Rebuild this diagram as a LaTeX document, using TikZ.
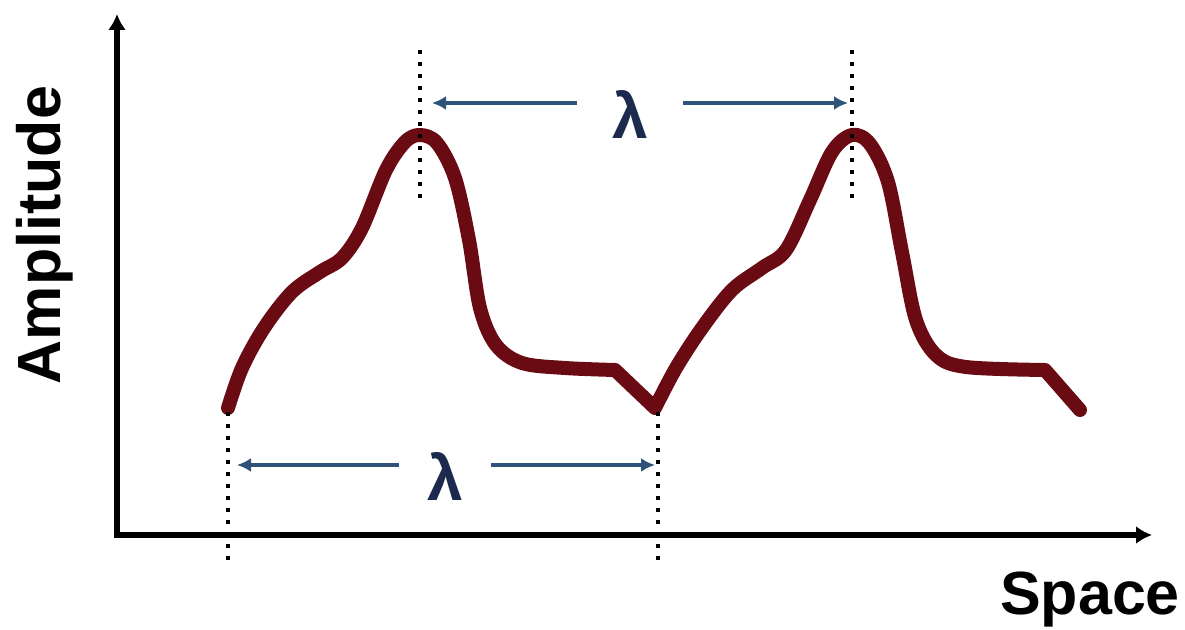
\documentclass[tikz,border=0pt]{standalone}
\usepackage{fontspec}
\setmainfont{Liberation Sans}
\usepackage{xcolor}
\usetikzlibrary{arrows.meta}
\definecolor{waveRed}{HTML}{6A0A12}
\definecolor{dimBlue}{HTML}{2F5378}
\definecolor{lamNavy}{HTML}{1C2A4E}

\begin{document}
\begin{tikzpicture}[x=0.5pt,y=-0.5pt,
  >={Latex[length=8pt,width=9pt]},
  axis/.style={line width=3pt,->},
  wave/.style={line width=7pt,draw=waveRed,line cap=round,line join=round},
  guide/.style={line width=1.8pt,dash pattern=on 1.8pt off 4.2pt},
  dim/.style={line width=2pt,draw=dimBlue,-{Latex[length=7pt,width=7pt]}},
  lam/.style={text=lamNavy,font=\fontsize{32}{36}\selectfont\bfseries,inner ysep=0pt},
  lbl/.style={font=\fontsize{30.5}{36}\selectfont\bfseries,inner sep=0pt}]
  \useasboundingbox (0,0) rectangle (1185,630);
  \coordinate (o) at (117,535);
  \coordinate (ytop) at (117,14);
  \coordinate (xend) at (1152,535);
  \draw[axis] (o) -- (ytop);
  \draw[axis] ([xshift=-1.5pt]o) -- (xend);
  \node[lbl,rotate=90] (ylab) at (45,235) {Amplitude};
  \node[lbl] (xlab) at (1090,600) {Space};
  \draw[wave] plot[smooth,tension=.55] coordinates {(228,408) (242,368) (264,328) (292,292) (320,272) (342,258) (362,228) (386,170) (405,142) (420,135) (437,143) (455,178) (469,240) (480,308) (496,345) (522,363) (565,368) (615,370)}
    -- plot[smooth,tension=.55] coordinates {(655,408) (676,368) (702,328) (732,290) (762,268) (786,250) (810,200) (832,152) (852,135) (870,144) (888,182) (902,252) (916,320) (936,355) (966,367) (1045,370)}
    -- (1080,410);
  \coordinate (gA1) at (420,50);  \coordinate (gA2) at (420,205);
  \coordinate (gB1) at (852,50);  \coordinate (gB2) at (852,205);
  \coordinate (gC1) at (228,412); \coordinate (gC2) at (228,566);
  \coordinate (gD1) at (658,412); \coordinate (gD2) at (658,566);
  \draw[guide] (gA1) -- (gA2);
  \draw[guide] (gB1) -- (gB2);
  \draw[guide] (gC1) -- (gC2);
  \draw[guide] (gD1) -- (gD2);
  \node[lam,inner xsep=17.5pt] (lamTop) at (630,114) {λ};
  \node[lam,inner xsep=14pt] (lamBot) at (445,476) {λ};
  \coordinate (tL) at (432,103); \coordinate (tR) at (848,103);
  \coordinate (bL) at (237,465); \coordinate (bR) at (655,465);
  \draw[dim] (lamTop.west |- tL) -- (tL);
  \draw[dim] (lamTop.east |- tR) -- (tR);
  \draw[dim] (lamBot.west |- bL) -- (bL);
  \draw[dim] (lamBot.east |- bR) -- (bR);
\end{tikzpicture}
\end{document}
